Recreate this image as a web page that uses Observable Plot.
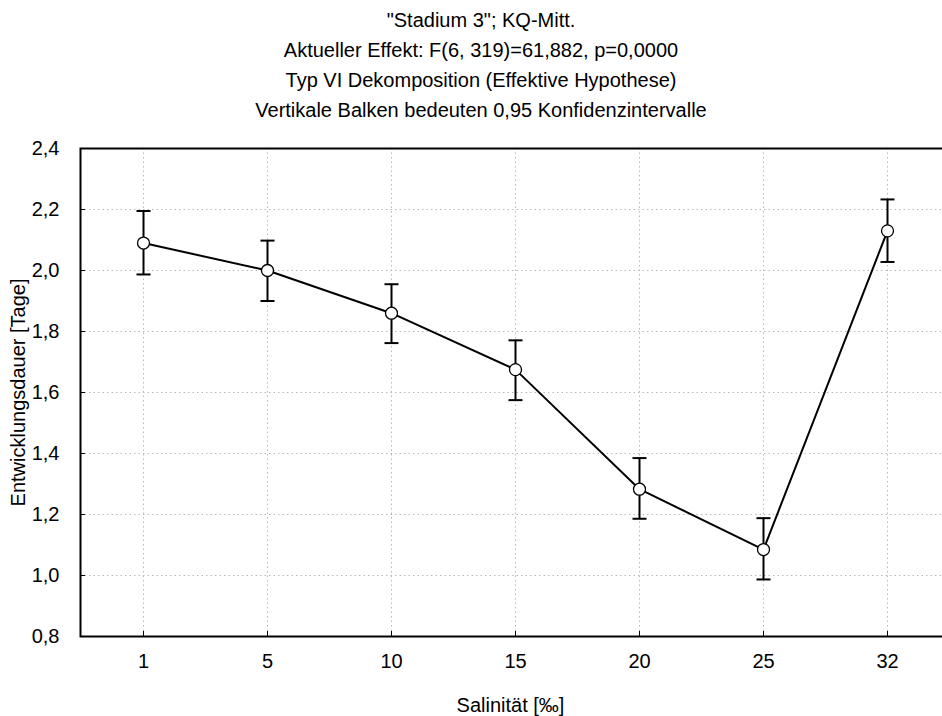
<!DOCTYPE html>
<html>
<head>
<meta charset="utf-8">
<script src="https://cdn.jsdelivr.net/npm/d3@7"></script>
<script src="https://cdn.jsdelivr.net/npm/@observablehq/plot@0.6"></script>
<style>
  body { margin: 0; background: #fff; font-family: "Liberation Sans", Arial, sans-serif; }
  #wrap { width: 942px; height: 716px; overflow: hidden; position: relative; }
  #title { box-sizing: border-box; width: 942px; padding: 5px 0 0 20px; text-align: center;
           font-size: 20px; line-height: 30px; color: #000; }
  #chart svg { display: block; max-width: none !important; }
</style>
</head>
<body>
<div id="wrap">
  <div id="title">
    <div>"Stadium 3"; KQ-Mitt.</div>
    <div>Aktueller Effekt: F(6, 319)=61,882, p=0,0000</div>
    <div>Typ VI Dekomposition (Effektive Hypothese)</div>
    <div>Vertikale Balken bedeuten 0,95 Konfidenzintervalle</div>
  </div>
  <div id="chart"></div>
</div>
<script>
// Salinity levels (‰) and development time (days): mean with 95% confidence limits
const salinity = ["1", "5", "10", "15", "20", "25", "32"];
const meanDays = [2.09, 2.00, 1.86, 1.675, 1.283, 1.085, 2.13];
const lowerCI  = [1.987, 1.900, 1.762, 1.575, 1.186, 0.987, 2.028];
const upperCI  = [2.195, 2.098, 1.955, 1.771, 1.385, 1.188, 2.233];
const yTicks   = [0.8, 1.0, 1.2, 1.4, 1.6, 1.8, 2.0, 2.2, 2.4];

const rows = salinity.map((s, i) => ({s, m: meanDays[i], lo: lowerCI[i], hi: upperCI[i]}));

// horizontal cap for the error bars
const cap = {draw(ctx) { ctx.moveTo(-7, 0); ctx.lineTo(7, 0); }};

const fmt = d => d.toFixed(1).replace(".", ",");
const W = 960, ML = 80, MR = 10, MT = 23, MB = 80, H = 591;
const frameW = W - ML - MR, frameH = H - MT - MB;

const chart = Plot.plot({
  width: W,
  height: H,
  marginLeft: ML,
  marginRight: MR,
  marginTop: MT,
  marginBottom: MB,
  style: {fontFamily: "'Liberation Sans', Arial, sans-serif", fontSize: "20px", color: "#000", background: "#fff"},
  x: {type: "point", domain: salinity, range: [142, 887], padding: 0},
  y: {domain: [0.8, 2.4]},
  marks: [
    Plot.gridY(yTicks, {stroke: "#b8b8b8", strokeOpacity: 1, strokeDasharray: "1.5,3"}),
    Plot.gridX(salinity, {stroke: "#b8b8b8", strokeOpacity: 1, strokeDasharray: "1.5,3"}),
    Plot.axisY(yTicks, {tickSize: 0, tickPadding: 21, tickFormat: fmt, label: null, fontSize: 20}),
    Plot.axisX(salinity, {tickSize: 0, tickPadding: 17, label: null, fontSize: 20}),
    // short inward tick marks on the left and bottom borders
    Plot.tickY(yTicks, {y: d => d, insetRight: frameW - 5, stroke: "#000", strokeWidth: 1}),
    Plot.tickX(salinity, {x: d => d, insetTop: frameH - 5, stroke: "#000", strokeWidth: 1}),
    Plot.frame({stroke: "#000", strokeWidth: 2}),
    Plot.text(["Salinität [‰]"], {frameAnchor: "bottom", dy: 69, dx: -5, lineAnchor: "middle", textAnchor: "middle", fontSize: 20}),
    Plot.text(["Entwicklungsdauer [Tage]"], {frameAnchor: "left", dx: -62, rotate: -90, lineAnchor: "middle", textAnchor: "middle", fontSize: 20}),
    Plot.ruleX(rows, {x: "s", y1: "lo", y2: "hi", stroke: "#000", strokeWidth: 2}),
    Plot.dot(rows, {x: "s", y: "lo", symbol: cap, stroke: "#000", strokeWidth: 2, fill: "none"}),
    Plot.dot(rows, {x: "s", y: "hi", symbol: cap, stroke: "#000", strokeWidth: 2, fill: "none"}),
    Plot.line(rows, {x: "s", y: "m", stroke: "#000", strokeWidth: 2}),
    Plot.dot(rows, {x: "s", y: "m", r: 6, fill: "#fff", stroke: "#000", strokeWidth: 1.3})
  ]
});
document.getElementById("chart").append(chart);
</script>
</body>
</html>
